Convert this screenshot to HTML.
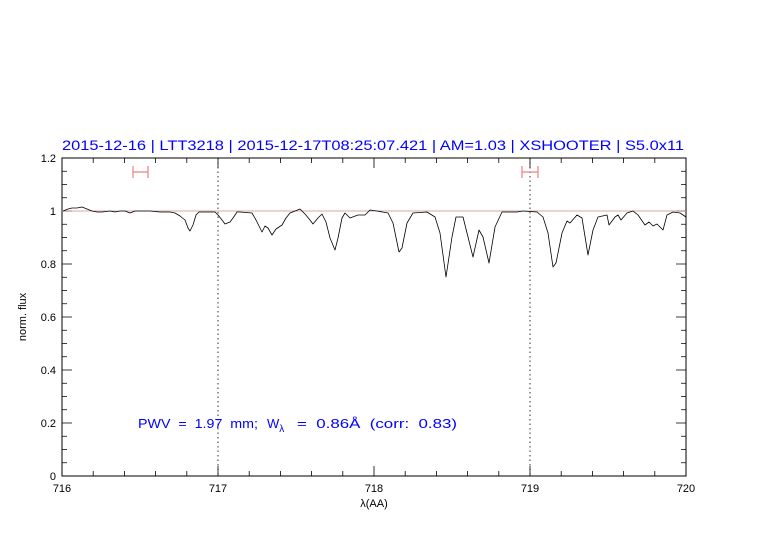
<!DOCTYPE html>
<html><head><meta charset="utf-8"><style>
html,body{margin:0;padding:0;background:#fff;}
svg{display:block;font-family:"Liberation Sans",sans-serif;}
</style></head><body>
<svg width="782" height="542" viewBox="0 0 782 542" xmlns="http://www.w3.org/2000/svg">
<text x="62" y="150" font-size="13.5" fill="#0000ff" textLength="622" lengthAdjust="spacingAndGlyphs">2015-12-16 | LTT3218 | 2015-12-17T08:25:07.421 | AM=1.03 | XSHOOTER | S5.0x11</text>
<rect x="62" y="158" width="624" height="318" fill="none" stroke="#000" stroke-width="1"/>
<g stroke="#000" stroke-width="0.8">
<path d="M62,476v-10M218,476v-10M374,476v-10M530,476v-10M686,476v-10M62,158v10M218,158v10M374,158v10M530,158v10M686,158v10
M93.2,476v-5M124.4,476v-5M155.6,476v-5M186.8,476v-5M249.2,476v-5M280.4,476v-5M311.6,476v-5M342.8,476v-5M405.2,476v-5M436.4,476v-5M467.6,476v-5M498.8,476v-5M561.2,476v-5M592.4,476v-5M623.6,476v-5M654.8,476v-5
M93.2,158v5M124.4,158v5M155.6,158v5M186.8,158v5M249.2,158v5M280.4,158v5M311.6,158v5M342.8,158v5M405.2,158v5M436.4,158v5M467.6,158v5M498.8,158v5M561.2,158v5M592.4,158v5M623.6,158v5M654.8,158v5"/>
<path d="M62,476h10M62,423h10M62,370h10M62,317h10M62,264h10M62,211h10M62,158h10M686,476h-10M686,423h-10M686,370h-10M686,317h-10M686,264h-10M686,211h-10M686,158h-10
M62,462.75h5M62,449.5h5M62,436.25h5M62,409.75h5M62,396.5h5M62,383.25h5M62,356.75h5M62,343.5h5M62,330.25h5M62,303.75h5M62,290.5h5M62,277.25h5M62,250.75h5M62,237.5h5M62,224.25h5M62,197.75h5M62,184.5h5M62,171.25h5
M686,462.75h-5M686,449.5h-5M686,436.25h-5M686,409.75h-5M686,396.5h-5M686,383.25h-5M686,356.75h-5M686,343.5h-5M686,330.25h-5M686,303.75h-5M686,290.5h-5M686,277.25h-5M686,250.75h-5M686,237.5h-5M686,224.25h-5M686,197.75h-5M686,184.5h-5M686,171.25h-5"/>
</g>
<g font-size="11" fill="#000" text-anchor="end">
<text x="56" y="480">0</text><text x="56" y="427">0.2</text><text x="56" y="374">0.4</text><text x="56" y="321">0.6</text><text x="56" y="268">0.8</text><text x="56" y="215">1</text><text x="56" y="162">1.2</text>
</g>
<g font-size="11" fill="#000" text-anchor="middle">
<text x="62" y="492">716</text><text x="218" y="492">717</text><text x="374" y="492">718</text><text x="530" y="492">719</text><text x="686" y="492">720</text>
<text x="374" y="507">λ(AA)</text>
</g>
<text transform="translate(26,317) rotate(-90)" font-size="11" text-anchor="middle">norm. flux</text>
<path d="M218,158V476M530,158V476" stroke="#000" stroke-width="0.8" stroke-dasharray="1.5,3"/>
<path d="M62,211H686" stroke="#c88" stroke-width="0.7"/>
<g stroke="#f08080" stroke-width="1.2">
<path d="M133,172H148M133,166V178M148,166V178"/>
<path d="M522,172H538M522,166V178M538,166V178"/>
</g>
<polyline fill="none" stroke="#000" stroke-width="0.8" stroke-linejoin="round" points="63,211 68,209 72,208 77,208 82,207 87,209 92,211 97,212 102,212 110,211 115,212 120,211 125,211 130,213 135,211 142,211 150,211 160,212 170,212 175,213 180,216 185,220 188,228 190,231 193,225 196,215 199,212 205,212 210,212 215,212 218,215 222,220 225,224 230,222 233,218 237,212 240,212 252,213 256,220 262,232 265,226 268,228 272,235 276,229 282,225 286,218 290,213 300,209 305,214 310,220 313,224 318,218 322,214 326,222 330,238 335,250 338,238 342,218 345,213 350,218 358,215 365,215 370,210 377,211 388,213 393,223 399,252 402,248 407,223 413,213 427,212 435,217 440,233 446,277 452,237 456,217 463,217 468,237 473,257 479,230 483,237 489,263 495,227 502,212 510,212 517,212 523,211 537,212 543,217 548,233 553,267 556,263 562,233 567,221 570,223 577,215 582,218 588,255 593,230 598,217 607,215 609,225 615,217 618,215 621,220 627,213 633,211 638,215 645,225 649,222 653,226 657,224 663,230 667,215 673,212 680,213 686,217"/>
<text x="138" y="428" font-size="13" fill="#0000ff" xml:space="preserve"><tspan textLength="120" lengthAdjust="spacingAndGlyphs">PWV  =  1.97  mm;</tspan><tspan x="267">W</tspan><tspan font-size="10" dy="4">λ</tspan><tspan dy="-4" x="297" textLength="160" lengthAdjust="spacingAndGlyphs">=  0.86Å  (corr:  0.83)</tspan></text>
</svg>
</body></html>
